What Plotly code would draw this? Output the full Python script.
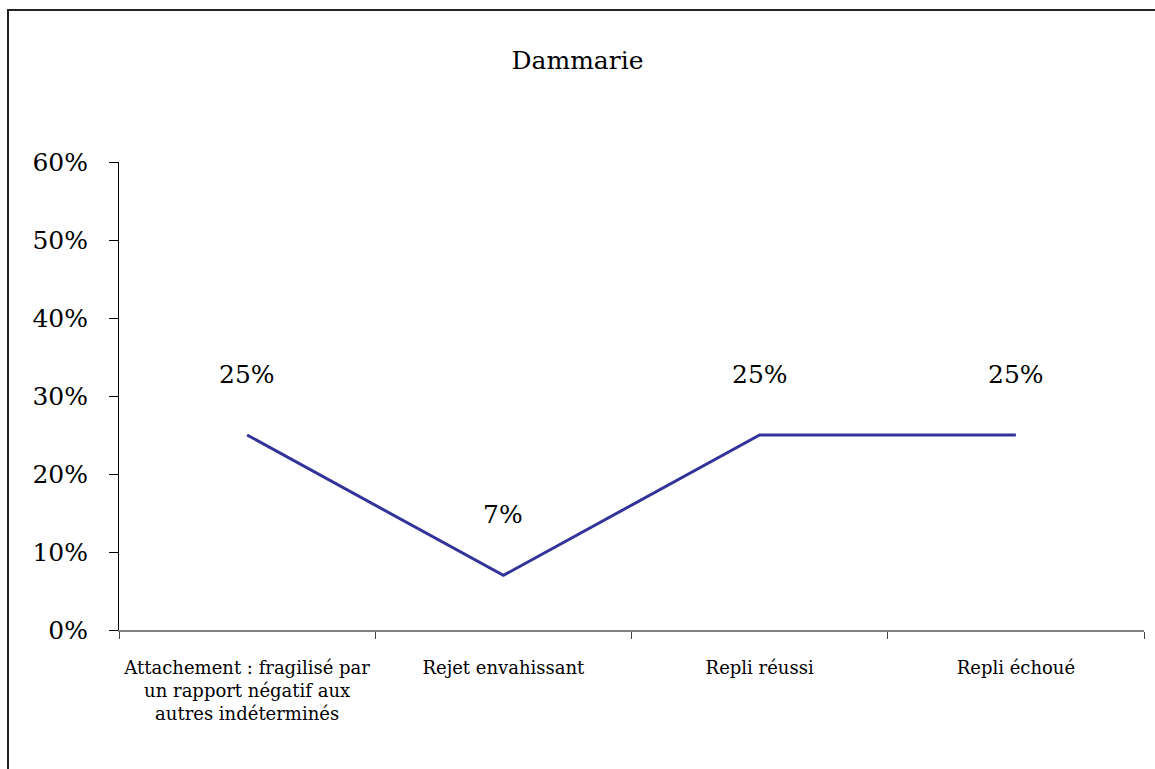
import plotly.graph_objects as go

categories = [
    "Attachement : fragilisé par<br>un rapport négatif aux<br>autres indéterminés",
    "Rejet envahissant",
    "Repli réussi",
    "Repli échoué",
]
values = [0.25, 0.07, 0.25, 0.25]
value_labels = ["25%", "7%", "25%", "25%"]

SERIF = "DejaVu Serif"

W, H = 1155, 769
L, R, T, B = 119, 11, 162, 139
plot_w = W - L - R
plot_h = H - T - B

fig = go.Figure()
fig.add_trace(go.Scatter(
    x=categories, y=values, mode="lines",
    line=dict(color="#333399", width=3),
    hoverinfo="skip", showlegend=False,
))

# value labels above each point
for c, v, t in zip(categories, values, value_labels):
    fig.add_annotation(
        x=c, y=v, text=t, showarrow=False, yshift=61,
        font=dict(family=SERIF, size=25, color="#000000"),
    )

# outer frame of the chart
fig.add_shape(
    type="rect", xref="paper", yref="paper",
    x0=(8 - L) / plot_w, x1=(W + 10 - L) / plot_w,
    y0=-(H + 10 - T - plot_h) / plot_h, y1=(plot_h + T - 10) / plot_h,
    line=dict(color="#222222", width=2), fillcolor="rgba(0,0,0,0)",
)

fig.update_layout(
    width=W, height=H,
    margin=dict(l=L, r=R, t=T, b=B, autoexpand=False),
    paper_bgcolor="white", plot_bgcolor="white",
    title=dict(
        text="Dammarie", x=0.5, xref="container", xanchor="center",
        y=1 - 60 / H, yref="container", yanchor="middle",
        font=dict(family=SERIF, size=25, color="#000000"),
    ),
    font=dict(family=SERIF, color="#000000"),
)

fig.update_xaxes(
    type="category", range=[-0.5, 3.5], tickson="boundaries",
    tickangle=0,
    showline=True, linecolor="#808080", linewidth=2,
    ticks="outside", ticklen=7, tickcolor="#444444", tickwidth=1,
    showgrid=False, zeroline=False,
    tickfont=dict(family=SERIF, size=18, color="#000000"),
    ticklabelstandoff=20,
)
fig.update_yaxes(
    range=[0, 0.6], dtick=0.1, tickformat=".0%",
    showline=True, linecolor="#000000", linewidth=1,
    ticks="outside", ticklen=9, tickcolor="#000000", tickwidth=1,
    showgrid=False, zeroline=False,
    tickfont=dict(family=SERIF, size=25, color="#000000"),
    ticklabelstandoff=16,
)

fig.write_html("out.html")
